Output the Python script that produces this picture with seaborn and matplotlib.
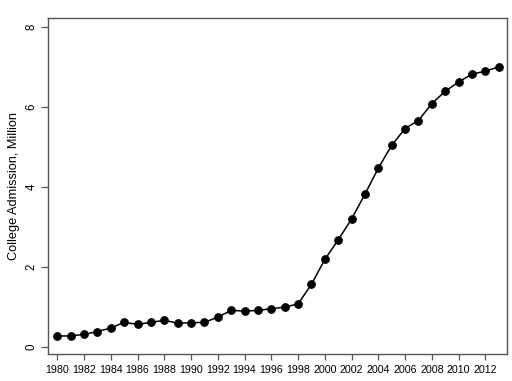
import matplotlib
matplotlib.use("Agg")
import matplotlib.pyplot as plt
import pandas as pd
import seaborn as sns

years = list(range(1980, 2014))
admissions = [0.28, 0.28, 0.32, 0.39, 0.48, 0.62, 0.57, 0.62, 0.67, 0.60,
              0.61, 0.62, 0.75, 0.92, 0.90, 0.92, 0.96, 1.00, 1.08, 1.57,
              2.19, 2.68, 3.20, 3.82, 4.47, 5.04, 5.46, 5.66, 6.08, 6.39,
              6.62, 6.82, 6.89, 7.00]
x_ticks = list(range(1980, 2013, 2))
y_ticks = [0, 2, 4, 6, 8]

df = pd.DataFrame({"year": years, "admission": admissions})

sns.set_theme(style="white")
plt.rcParams["font.family"] = ["Liberation Sans", "DejaVu Sans"]

fig = plt.figure(figsize=(5.12, 3.81), dpi=100)
ax = fig.add_axes([0.0947, 0.0709, 0.8955, 0.8819])

sns.lineplot(
    data=df,
    x="year",
    y="admission",
    ax=ax,
    color="black",
    linewidth=1.1,
    marker="o",
    markersize=5.5,
    markeredgecolor="black",
    markerfacecolor="black",
)

ax.set_xlim(1979.34, 2013.62)
ax.set_ylim(-0.17, 8.22)
ax.set_xticks(x_ticks)
ax.set_xticklabels([str(t) for t in x_ticks])
ax.set_yticks(y_ticks)
ax.set_yticklabels([str(t) for t in y_ticks])
ax.set_xlabel("")
ax.set_ylabel("College Admission, Million", fontsize=9.2, color="black")
ax.yaxis.set_label_coords(-0.062, 0.5)

for sp in ax.spines.values():
    sp.set_visible(True)
    sp.set_color("#555555")
    sp.set_linewidth(1.0)

ax.tick_params(axis="x", bottom=True, length=4, width=0.9, color="#555555",
               labelsize=7.7, pad=4, labelcolor="black")
ax.tick_params(axis="y", left=True, length=5, width=0.9, color="#555555",
               labelsize=8.3, pad=3, labelrotation=90, labelcolor="black")
for lab in ax.get_yticklabels():
    lab.set_va("center")

fig.savefig("out.png", dpi=100)
plt.close(fig)
